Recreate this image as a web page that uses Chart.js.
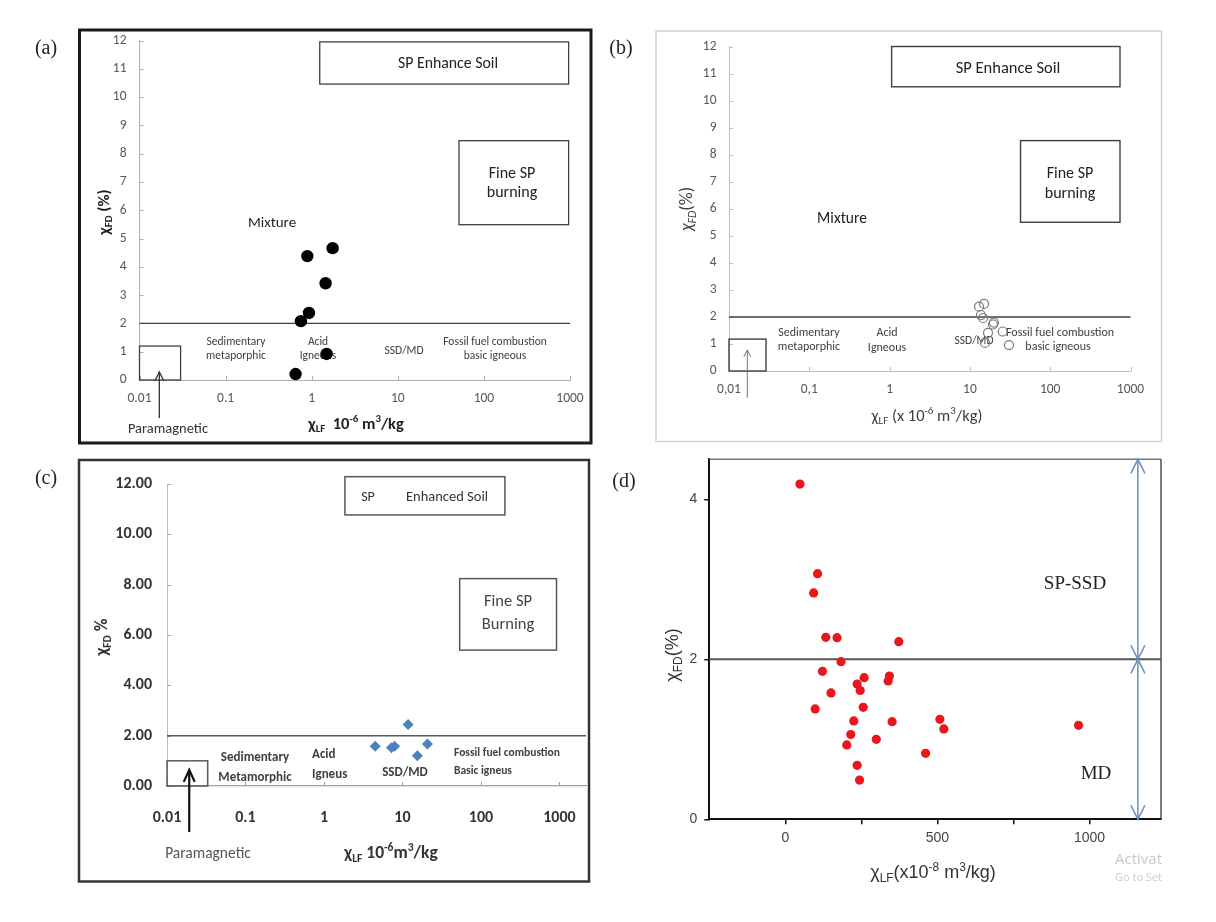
<!DOCTYPE html>
<html><head><meta charset="utf-8">
<script src="https://cdn.jsdelivr.net/npm/chart.js@4.4.1/dist/chart.umd.min.js"></script>
<style>
html,body{margin:0;padding:0;background:#fff;}
#wrap{position:relative;width:1216px;height:922px;overflow:hidden;background:#fff;}
.pane{position:absolute;}
canvas{display:block;}
</style></head><body><div id="wrap">
<div class="pane" style="left:0;top:0;width:600px;height:450px"><canvas id="ca" width="600" height="450"></canvas></div>
<div class="pane" style="left:600px;top:0;width:616px;height:450px"><canvas id="cb" width="616" height="450"></canvas></div>
<div class="pane" style="left:0;top:450px;width:600px;height:472px"><canvas id="cc" width="600" height="472"></canvas></div>
<div class="pane" style="left:600px;top:450px;width:616px;height:472px"><canvas id="cd" width="616" height="472"></canvas></div>
</div>
<script>
// ---------------- DATA ----------------
const decadeTicks = [0.01, 0.1, 1, 10, 100, 1000];
const decadeLabelsDot = ['0.01', '0.1', '1', '10', '100', '1000'];
const decadeLabelsComma = ['0,01', '0,1', '1', '10', '100', '1000'];
const yTicks12 = [0, 1, 2, 3, 4, 5, 6, 7, 8, 9, 10, 11, 12];
const yLabels12 = ['0', '1', '2', '3', '4', '5', '6', '7', '8', '9', '10', '11', '12'];
const yTicksC = [0, 2, 4, 6, 8, 10, 12];
const yLabelsC = ['0.00', '2.00', '4.00', '6.00', '8.00', '10.00', '12.00'];
const xTicksD = [0, 250, 500, 750, 1000];
const xLabelsD = ['0', '', '500', '', '1000'];
const yTicksD = [0, 2, 4];
const yLabelsD = ['0', '2', '4'];

// panel (a)
const aX = [0.89, 1.75, 1.45, 0.93, 0.75, 1.49, 0.65];
const aY = [4.38, 4.66, 3.42, 2.37, 2.08, 0.92, 0.21];
// panel (b)
const bX = [15.0, 13.0, 13.7, 14.6, 19.9, 19.4, 25.6, 16.8, 15.4, 30.7];
const bY = [2.48, 2.38, 2.07, 1.96, 1.79, 1.72, 1.46, 1.41, 1.04, 0.96];
// panel (c)
const cX = [4.49, 7.24, 7.93, 11.8, 15.5, 20.8];
const cY = [1.58, 1.52, 1.58, 2.44, 1.20, 1.67];
// panel (d)
const dX = [48, 106, 93, 133, 170, 373, 183, 122, 259, 342, 338, 236, 246, 150, 98, 256, 225, 351, 508, 521, 964, 215, 299, 202, 461, 236, 244];
const dY = [4.19, 3.07, 2.83, 2.275, 2.27, 2.22, 1.97, 1.85, 1.77, 1.79, 1.73, 1.69, 1.61, 1.58, 1.38, 1.40, 1.23, 1.22, 1.25, 1.13, 1.175, 1.06, 1.0, 0.93, 0.825, 0.675, 0.49];

const threshold = 2;
// region boxes [xFrom, xTo, yFrom, yTo]
const aBoxSP = [1.24, 964, 10.46, 11.95];
const aBoxFine = [51.4, 964, 5.49, 8.46];
const aBoxPara = [0.01, 0.03, 0, 1.2];
const aArrow = [0.017, -1.34, 0.28];
const bBoxSP = [1.06, 740, 10.51, 12.0];
const bBoxFine = [42.7, 740, 5.5, 8.52];
const bBoxPara = [0.01, 0.0289, 0, 1.18];
const bArrow = [0.0169, -0.99, 0.78];
const cBoxSP = [1.85, 202, 10.77, 12.29];
const cBoxFine = [53.6, 918, 5.40, 8.24];
const cBoxPara = [0.01, 0.033, 0, 1.0];
const cArrow = [0.0192, -1.83, 0.64];
const dArrowX = 1159;
const dArrowUpper = [4.5, 2];
const dArrowLower = [2, 0];

// ---------------- STYLE / HELPERS ----------------
const CAL = "Carlito, Lato, 'Open Sans', sans-serif";
const SERIF = "'Liberation Serif', 'DejaVu Serif', serif";
const ARIAL = "'Liberation Sans', Arial, sans-serif";

function drawRich(ctx, parts, x, y, align, f) {
  let total = 0;
  const segs = parts.map(p => {
    const kind = p[1] || '';
    const size = kind ? f.size * 0.66 : f.size;
    const style = p[2] || f.style || 'normal';
    const font = `${style} ${f.weight || 'normal'} ${size}px ${f.family}`;
    ctx.font = font;
    const w = ctx.measureText(p[0]).width;
    total += w;
    return {t: p[0], kind, w, font};
  });
  let cx = align === 'center' ? x - total / 2 : (align === 'right' ? x - total : x);
  ctx.fillStyle = f.color || '#222';
  ctx.textAlign = 'left';
  ctx.textBaseline = 'alphabetic';
  const base = y + f.size * 0.35;
  segs.forEach(s => {
    ctx.font = s.font;
    const dy = s.kind === 'sub' ? f.size * 0.22 : (s.kind === 'sup' ? -f.size * 0.4 : 0);
    ctx.fillText(s.t, cx, base + dy);
    cx += s.w;
  });
}

function drawArrow(ctx, x, yTail, yTip, hl, hw, heads) {
  ctx.beginPath(); ctx.moveTo(x, yTail); ctx.lineTo(x, yTip); ctx.stroke();
  const headAt = (tipY, fromY) => {
    const dir = tipY < fromY ? 1 : -1;
    ctx.beginPath();
    ctx.moveTo(x - hw, tipY + dir * hl); ctx.lineTo(x, tipY); ctx.lineTo(x + hw, tipY + dir * hl);
    ctx.stroke();
  };
  headAt(yTip, yTail);
  if (heads === 2) headAt(yTail, yTip);
}

function decoPlugin(cfg) {
  return {
    id: 'deco_' + cfg.id,
    beforeDatasetsDraw(chart) {
      const ctx = chart.ctx, xs = chart.scales.x, ys = chart.scales.y, ca = chart.chartArea;
      const ox = cfg.ox, oy = cfg.oy;
      ctx.save();
      ctx.lineCap = 'butt';
      if (cfg.border) {
        const b = cfg.border;
        ctx.strokeStyle = b.color; ctx.lineWidth = b.width;
        ctx.strokeRect(b.rect[0] - ox, b.rect[1] - oy, b.rect[2] - b.rect[0], b.rect[3] - b.rect[1]);
      }
      if (cfg.insideTicks) {
        ctx.strokeStyle = cfg.insideTicks.color; ctx.lineWidth = 1;
        const L = cfg.insideTicks.len;
        xs.ticks.forEach(t => { const px = Math.round(xs.getPixelForValue(t.value)) + 0.5; ctx.beginPath(); ctx.moveTo(px, ca.bottom); ctx.lineTo(px, ca.bottom - L); ctx.stroke(); });
        ys.ticks.forEach(t => { const py = Math.round(ys.getPixelForValue(t.value)) + 0.5; ctx.beginPath(); ctx.moveTo(ca.left, py); ctx.lineTo(ca.left + L, py); ctx.stroke(); });
      }
      if (cfg.frame) {
        ctx.strokeStyle = cfg.frame.topColor; ctx.lineWidth = cfg.frame.topWidth;
        ctx.beginPath(); ctx.moveTo(ca.left, ca.top); ctx.lineTo(ca.right, ca.top); ctx.stroke();
        ctx.strokeStyle = cfg.frame.rightColor; ctx.lineWidth = cfg.frame.rightWidth;
        ctx.beginPath(); ctx.moveTo(ca.right, ca.top); ctx.lineTo(ca.right, ca.bottom); ctx.stroke();
      }
      (cfg.texts || []).forEach(t => {
        if (t.rot) {
          ctx.save(); ctx.translate(t.x - ox, t.y - oy); ctx.rotate(t.rot);
          drawRich(ctx, t.parts, 0, 0, t.align || 'center', t.f);
          ctx.restore();
        } else {
          drawRich(ctx, t.parts, t.x - ox, t.y - oy, t.align || 'center', t.f);
        }
      });
      if (cfg.hline) {
        const h = cfg.hline;
        ctx.strokeStyle = h.color; ctx.lineWidth = h.width;
        const py = ys.getPixelForValue(h.y);
        ctx.beginPath(); ctx.moveTo(xs.getPixelForValue(h.x1), py); ctx.lineTo(xs.getPixelForValue(h.x2), py); ctx.stroke();
      }
      if (cfg.boxes) {
        ctx.strokeStyle = cfg.boxes.color; ctx.lineWidth = cfg.boxes.width;
        cfg.boxes.list.forEach(bx => {
          const x1 = xs.getPixelForValue(bx[0]), x2 = xs.getPixelForValue(bx[1]);
          const y1 = ys.getPixelForValue(bx[2]), y2 = ys.getPixelForValue(bx[3]);
          ctx.strokeRect(x1, y2, x2 - x1, y1 - y2);
        });
      }
      (cfg.arrows || []).forEach(a => {
        ctx.strokeStyle = a.color; ctx.lineWidth = a.width;
        drawArrow(ctx, xs.getPixelForValue(a.x), ys.getPixelForValue(a.y1), ys.getPixelForValue(a.y2), a.hl, a.hw, a.heads);
      });
      ctx.restore();
    }
  };
}

function ticksFrom(vals) { return s => { s.ticks = vals.map(v => ({value: v})); }; }

function makePanel(cfg) {
  const el = document.getElementById(cfg.id);
  const [L, R, T, B] = cfg.area;
  const yW = L - cfg.ox, padTop = T - cfg.oy, padRight = cfg.ox + cfg.w - R, xH = cfg.oy + cfg.h - B;
  const xCfg = Object.assign({}, cfg.x, {afterFit: s => { s.height = xH; s.paddingLeft = 0; s.paddingRight = 0; }});
  const yCfg = Object.assign({}, cfg.y, {afterFit: s => { s.width = yW; s.paddingTop = 0; s.paddingBottom = 0; }});
  return new Chart(el, {
    type: 'scatter',
    data: {datasets: [cfg.dataset]},
    options: {
      responsive: false, animation: false, devicePixelRatio: 1,
      layout: {padding: {left: 0, top: padTop, right: padRight, bottom: 0}},
      plugins: {legend: {display: false}, tooltip: {enabled: false}},
      scales: {x: xCfg, y: yCfg}
    },
    plugins: [decoPlugin(cfg)]
  });
}

function toPoints(xs, ys) { return xs.map((x, i) => ({x, y: ys[i]})); }

const calTick = (size, weight) => ({family: CAL, size, weight: weight || 'normal'});
const regionF = {size: 11.5, family: CAL, color: '#404040'};
const regionFb = {size: 12, family: CAL, color: '#404040'};

// ---------------- PANEL (a) ----------------
makePanel({
  id: 'ca', ox: 0, oy: 0, w: 600, h: 450, area: [139.5, 570, 40.5, 380],
  dataset: {data: toPoints(aX, aY), pointStyle: 'circle', pointRadius: 6.2, backgroundColor: '#000', borderColor: '#000', borderWidth: 0, clip: false},
  x: {type: 'logarithmic', min: 0.01, max: 1000, afterBuildTicks: ticksFrom(decadeTicks),
      grid: {display: false, drawTicks: false}, border: {color: '#b0b0b0', width: 1},
      ticks: {callback: (v, i) => decadeLabelsDot[i], font: calTick(13.5), color: '#595959', padding: 11, autoSkip: false, maxRotation: 0}},
  y: {type: 'linear', min: 0, max: 12, afterBuildTicks: ticksFrom(yTicks12),
      grid: {display: false, drawTicks: false}, border: {color: '#b0b0b0', width: 1},
      ticks: {callback: (v, i) => yLabels12[i], font: calTick(13.5), color: '#595959', padding: 13, autoSkip: false}},
  border: {rect: [79.5, 30, 591, 443], color: '#1a1a1a', width: 3},
  insideTicks: {color: '#b0b0b0', len: 4},
  hline: {y: threshold, x1: 0.01, x2: 1000, color: '#404040', width: 1.4},
  boxes: {color: '#404040', width: 1.3, list: [aBoxSP, aBoxFine, aBoxPara]},
  arrows: [{x: aArrow[0], y1: aArrow[1], y2: aArrow[2], hl: 9, hw: 4.5, heads: 1, color: '#333', width: 1.3}],
  texts: [
    {x: 46, y: 47, parts: [['(a)']], f: {size: 20, family: SERIF, color: '#222'}},
    {x: 448, y: 62, parts: [['SP Enhance Soil']], f: {size: 15.8, family: CAL, color: '#222'}},
    {x: 512, y: 172, parts: [['Fine SP']], f: {size: 16, family: CAL, color: '#222'}},
    {x: 512, y: 191, parts: [['burning']], f: {size: 16, family: CAL, color: '#222'}},
    {x: 272, y: 222, parts: [['Mixture']], f: {size: 15, family: CAL, color: '#222'}},
    {x: 236, y: 341, parts: [['Sedimentary']], f: regionF},
    {x: 236, y: 355, parts: [['metaporphic']], f: regionF},
    {x: 318, y: 341, parts: [['Acid']], f: regionF},
    {x: 318, y: 355, parts: [['Igneous']], f: regionF},
    {x: 404, y: 350, parts: [['SSD/MD']], f: regionF},
    {x: 495, y: 341, parts: [['Fossil fuel combustion']], f: regionF},
    {x: 495, y: 355, parts: [['basic igneous']], f: regionF},
    {x: 168, y: 428, parts: [['Paramagnetic']], f: {size: 14.5, family: CAL, color: '#333'}},
    {x: 356, y: 423, parts: [['χ'], ['LF', 'sub'], ['  10'], ['-6', 'sup'], [' m'], ['3', 'sup'], ['/kg']], f: {size: 16.5, family: CAL, weight: 'bold', color: '#222'}},
    {x: 103, y: 212, rot: -Math.PI / 2, parts: [['χ'], ['FD', 'sub'], [' (%)']], f: {size: 16.5, family: CAL, weight: 'bold', color: '#222'}}
  ]
});

// ---------------- PANEL (b) ----------------
makePanel({
  id: 'cb', ox: 600, oy: 0, w: 616, h: 450, area: [729, 1130.5, 46.5, 371],
  dataset: {data: toPoints(bX, bY), pointStyle: 'circle', pointRadius: 4.5, backgroundColor: 'rgba(255,255,255,0)', borderColor: '#7a7a7a', borderWidth: 1.2, clip: false},
  x: {type: 'logarithmic', min: 0.01, max: 1000, afterBuildTicks: ticksFrom(decadeTicks),
      grid: {display: false, drawTicks: false}, border: {color: '#c0c0c0', width: 1},
      ticks: {callback: (v, i) => decadeLabelsComma[i], font: calTick(13.5), color: '#595959', padding: 11, autoSkip: false, maxRotation: 0}},
  y: {type: 'linear', min: 0, max: 12, afterBuildTicks: ticksFrom(yTicks12),
      grid: {display: false, drawTicks: false}, border: {color: '#c0c0c0', width: 1},
      ticks: {callback: (v, i) => yLabels12[i], font: calTick(13.5), color: '#595959', padding: 12.5, autoSkip: false}},
  border: {rect: [656, 31, 1161.5, 441.5], color: '#d4d4d4', width: 1.5},
  insideTicks: {color: '#c0c0c0', len: 4},
  hline: {y: threshold, x1: 0.01, x2: 1000, color: '#404040', width: 1.5},
  boxes: {color: '#404040', width: 1.4, list: [bBoxSP, bBoxFine, bBoxPara]},
  arrows: [{x: bArrow[0], y1: bArrow[1], y2: bArrow[2], hl: 7, hw: 3.5, heads: 1, color: '#777', width: 1}],
  texts: [
    {x: 621, y: 47, parts: [['(b)']], f: {size: 20, family: SERIF, color: '#222'}},
    {x: 1008, y: 67, parts: [['SP Enhance Soil']], f: {size: 16.5, family: CAL, color: '#222'}},
    {x: 1070, y: 172, parts: [['Fine SP']], f: {size: 16, family: CAL, color: '#222'}},
    {x: 1070, y: 192, parts: [['burning']], f: {size: 16, family: CAL, color: '#222'}},
    {x: 842, y: 218, parts: [['Mixture']], f: {size: 15.5, family: CAL, color: '#222'}},
    {x: 809, y: 332, parts: [['Sedimentary']], f: regionFb},
    {x: 809, y: 346, parts: [['metaporphic']], f: regionFb},
    {x: 887, y: 332, parts: [['Acid']], f: regionFb},
    {x: 887, y: 347, parts: [['Igneous']], f: regionFb},
    {x: 974, y: 340, parts: [['SSD/MD']], f: regionF},
    {x: 1060, y: 332, parts: [['Fossil fuel combustion']], f: regionFb},
    {x: 1058, y: 346, parts: [['basic igneous']], f: regionFb},
    {x: 927, y: 415, parts: [['χ'], ['LF', 'sub'], [' (x 10'], ['-6', 'sup'], [' m'], ['3', 'sup'], ['/kg)']], f: {size: 16.5, family: CAL, color: '#404040'}},
    {x: 686, y: 209, rot: -Math.PI / 2, parts: [['χ', '', 'italic'], ['FD', 'sub', 'italic'], ['(%)']], f: {size: 18, family: CAL, color: '#404040'}}
  ]
});

// ---------------- PANEL (c) ----------------
const regionC = {size: 13, family: CAL, weight: 'bold', color: '#404040'};
makePanel({
  id: 'cc', ox: 0, oy: 450, w: 600, h: 472, area: [167, 586, 484, 786],
  dataset: {data: toPoints(cX, cY), pointStyle: 'rectRot', pointRadius: 5.5, backgroundColor: '#4f81bd', borderColor: '#4f81bd', borderWidth: 0, clip: false},
  x: {type: 'logarithmic', min: 0.01, max: 2180, afterBuildTicks: ticksFrom(decadeTicks),
      grid: {display: false, drawTicks: false}, border: {color: '#a0a0a0', width: 1.2},
      ticks: {callback: (v, i) => decadeLabelsDot[i], font: calTick(16, 'bold'), color: '#333', padding: 22, autoSkip: false, maxRotation: 0}},
  y: {type: 'linear', min: 0, max: 12, afterBuildTicks: ticksFrom(yTicksC),
      grid: {display: false, drawTicks: false}, border: {color: '#bdbdbd', width: 1},
      ticks: {callback: (v, i) => yLabelsC[i], font: calTick(16, 'bold'), color: '#333', padding: 15, autoSkip: false}},
  border: {rect: [79, 460, 589, 881.5], color: '#333', width: 2.5},
  insideTicks: {color: '#a0a0a0', len: 4},
  hline: {y: threshold, x1: 0.01, x2: 2180, color: '#595959', width: 1.5},
  boxes: {color: '#595959', width: 1.5, list: [cBoxSP, cBoxFine, cBoxPara]},
  arrows: [{x: cArrow[0], y1: cArrow[1], y2: cArrow[2], hl: 12, hw: 5.5, heads: 1, color: '#111', width: 2.2}],
  texts: [
    {x: 46, y: 477, parts: [['(c)']], f: {size: 20, family: SERIF, color: '#222'}},
    {x: 368, y: 496, parts: [['SP']], f: {size: 14, family: CAL, color: '#333'}},
    {x: 447, y: 496, parts: [['Enhanced Soil']], f: {size: 14.5, family: CAL, color: '#333'}},
    {x: 508, y: 600, parts: [['Fine SP']], f: {size: 16.5, family: CAL, color: '#444'}},
    {x: 508, y: 623, parts: [['Burning']], f: {size: 16.5, family: CAL, color: '#444'}},
    {x: 255, y: 756, parts: [['Sedimentary']], f: regionC},
    {x: 255, y: 776, parts: [['Metamorphic']], f: regionC},
    {x: 312, y: 753, parts: [['Acid']], f: regionC, align: 'left'},
    {x: 312, y: 773, parts: [['Igneus']], f: regionC, align: 'left'},
    {x: 405, y: 771, parts: [['SSD/MD']], f: regionC},
    {x: 454, y: 752, parts: [['Fossil fuel combustion']], f: {size: 11.5, family: CAL, weight: 'bold', color: '#404040'}, align: 'left'},
    {x: 454, y: 770, parts: [['Basic igneus']], f: {size: 11.5, family: CAL, weight: 'bold', color: '#404040'}, align: 'left'},
    {x: 208, y: 853, parts: [['Paramagnetic']], f: {size: 15.5, family: CAL, color: '#555'}},
    {x: 391, y: 852, parts: [['χ'], ['LF', 'sub'], [' 10'], ['-6', 'sup'], ['m'], ['3', 'sup'], ['/kg']], f: {size: 17.5, family: CAL, weight: 'bold', color: '#333'}},
    {x: 101, y: 637, rot: -Math.PI / 2, parts: [['χ'], ['FD', 'sub'], [' %']], f: {size: 17.5, family: CAL, weight: 'bold', color: '#333'}}
  ]
});

// ---------------- PANEL (d) ----------------
makePanel({
  id: 'cd', ox: 600, oy: 450, w: 616, h: 472, area: [709.3, 1161, 459.3, 819.3],
  dataset: {data: toPoints(dX, dY), pointStyle: 'circle', pointRadius: 4.6, backgroundColor: '#e8161d', borderColor: '#e8161d', borderWidth: 0, clip: false},
  x: {type: 'linear', min: -250, max: 1235, afterBuildTicks: ticksFrom(xTicksD),
      grid: {display: true, drawOnChartArea: false, drawTicks: true, tickLength: 5, color: '#111', lineWidth: 1.5},
      border: {color: '#111', width: 2},
      ticks: {callback: (v, i) => xLabelsD[i], font: {family: ARIAL, size: 14}, color: '#444', padding: 5, autoSkip: false, maxRotation: 0}},
  y: {type: 'linear', min: 0, max: 4.5, afterBuildTicks: ticksFrom(yTicksD),
      grid: {display: true, drawOnChartArea: false, drawTicks: true, tickLength: 5, color: '#111', lineWidth: 1.5},
      border: {color: '#111', width: 2},
      ticks: {callback: (v, i) => yLabelsD[i], font: {family: ARIAL, size: 14}, color: '#444', padding: 7, autoSkip: false}},
  frame: {topColor: '#777', topWidth: 1.5, rightColor: '#222', rightWidth: 1.2},
  hline: {y: threshold, x1: -250, x2: 1235, color: '#555', width: 2},
  arrows: [
    {x: dArrowX, y1: dArrowUpper[1], y2: dArrowUpper[0], hl: 14, hw: 7, heads: 2, color: '#6a8fc0', width: 1.5},
    {x: dArrowX, y1: dArrowLower[0], y2: dArrowLower[1], hl: 14, hw: 7, heads: 2, color: '#6a8fc0', width: 1.5}
  ],
  texts: [
    {x: 624, y: 480, parts: [['(d)']], f: {size: 20, family: SERIF, color: '#222'}},
    {x: 1075, y: 582, parts: [['SP-SSD']], f: {size: 19, family: SERIF, color: '#222'}},
    {x: 1096, y: 772, parts: [['MD']], f: {size: 19, family: SERIF, color: '#222'}},
    {x: 933, y: 872, parts: [['χ'], ['LF', 'sub'], ['(x10'], ['-8', 'sup'], [' m'], ['3', 'sup'], ['/kg)']], f: {size: 18, family: ARIAL, color: '#333'}},
    {x: 672, y: 655, rot: -Math.PI / 2, parts: [['χ'], ['FD', 'sub'], ['(%)']], f: {size: 18, family: ARIAL, color: '#333'}},
    {x: 1115, y: 859, parts: [['Activat']], f: {size: 15, family: "'Open Sans', sans-serif", color: '#c8c8c8'}, align: 'left'},
    {x: 1115, y: 877, parts: [['Go to Set']], f: {size: 11, family: "'Open Sans', sans-serif", color: '#cccccc'}, align: 'left'}
  ]
});
</script>
</body></html>
